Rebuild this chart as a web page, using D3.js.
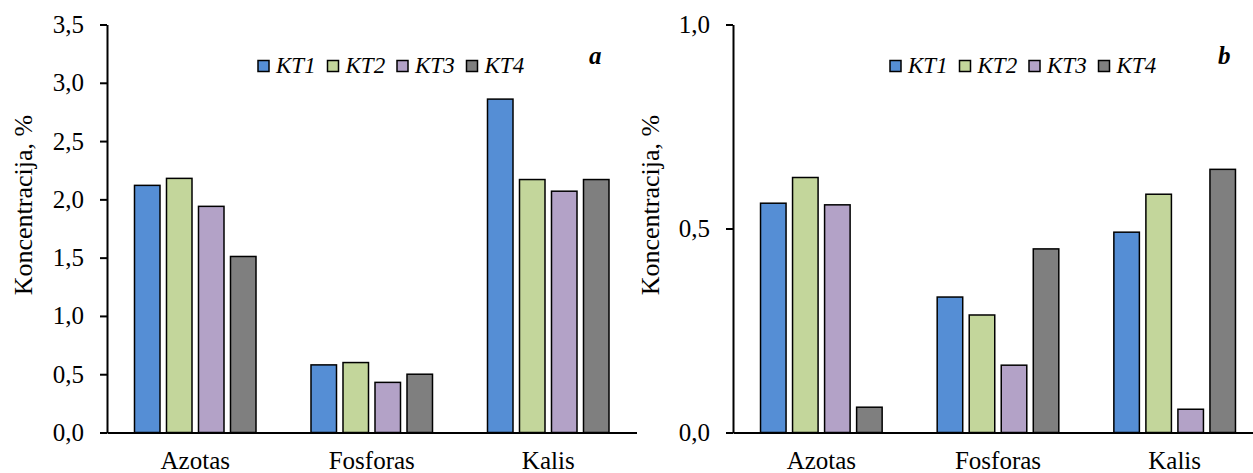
<!DOCTYPE html>
<html>
<head>
<meta charset="utf-8">
<script src="https://cdn.jsdelivr.net/npm/d3@7/dist/d3.min.js"></script>
<style>
  html, body { margin: 0; padding: 0; background: #fff; }
  svg { display: block; }
</style>
</head>
<body>
<svg id="chart" width="1253" height="473"></svg>
<script>
// Nutrient categories and treatment series
const categories = ["Azotas", "Fosforas", "Kalis"];
const seriesNames = ["KT1", "KT2", "KT3", "KT4"];
const seriesColors = ["#558ED5", "#C3D69B", "#B3A2C7", "#7F7F7F"];

// Panel a: concentration, % (rows = series, columns = categories)
const valuesA = [
  [2.12, 0.58, 2.86],
  [2.18, 0.60, 2.17],
  [1.94, 0.43, 2.07],
  [1.51, 0.50, 2.17]
];
const ticksA = [0, 0.5, 1.0, 1.5, 2.0, 2.5, 3.0, 3.5];

// Panel b: concentration, %
const valuesB = [
  [0.562, 0.332, 0.491],
  [0.625, 0.288, 0.584],
  [0.558, 0.165, 0.057],
  [0.062, 0.450, 0.645]
];
const ticksB = [0, 0.5, 1.0];

const yTitle = "Koncentracija, %";
const svg = d3.select("#chart");
const FONT = '"Liberation Serif"';

function serifText(sel, size) {
  return sel.style("font-family", FONT).style("font-size", size + "px").style("fill", "#000");
}

function drawPanel(cfg) {
  const g = svg.append("g");
  const y = d3.scaleLinear().domain([0, cfg.max]).range([432.5, 24.5]);
  const x = d3.scaleBand().domain(categories).range([cfg.x0, cfg.x1])
    .paddingInner(0.3116).paddingOuter(0.1558);
  const xs = d3.scaleBand().domain(seriesNames).range([0, x.bandwidth()])
    .paddingInner(0.203).paddingOuter(0);

  // bars
  seriesNames.forEach((s, si) => {
    g.append("g").selectAll("rect")
      .data(categories.map((c, ci) => ({ c, v: cfg.values[si][ci] })))
      .join("rect")
      .attr("x", d => x(d.c) + xs(s))
      .attr("y", d => y(d.v))
      .attr("width", xs.bandwidth())
      .attr("height", d => y(0) - y(d.v))
      .attr("fill", seriesColors[si])
      .attr("stroke", "#000")
      .attr("stroke-width", 1.5);
  });

  // y axis
  const yAxis = g.append("g")
    .attr("transform", `translate(${cfg.x0},0)`)
    .call(d3.axisLeft(y).tickValues(cfg.ticks).tickSizeInner(7).tickSizeOuter(0)
      .tickPadding(16)
      .tickFormat(d => d.toFixed(1).replace(".", ",")));
  yAxis.attr("font-family", null).attr("font-size", null);
  yAxis.selectAll("path, line").attr("stroke", "#000").attr("stroke-width", 2);
  serifText(yAxis.selectAll("text"), 25);

  // x axis
  const xAxis = g.append("g")
    .attr("transform", `translate(0,${y(0)})`)
    .call(d3.axisBottom(x).tickSize(0).tickSizeOuter(0).tickPadding(19));
  xAxis.attr("font-family", null).attr("font-size", null);
  xAxis.select("path").attr("stroke", "#000").attr("stroke-width", 2);
  serifText(xAxis.selectAll("text"), 25);

  // y axis title
  serifText(g.append("text"), 26)
    .attr("transform", `translate(${cfg.titleX},205) rotate(-90)`)
    .attr("text-anchor", "middle")
    .attr("dominant-baseline", "central")
    .text(yTitle);

  // legend
  const lg = g.append("g");
  seriesNames.forEach((s, i) => {
    const lx = cfg.legendX + i * 69.5;
    lg.append("rect")
      .attr("x", lx).attr("y", 60.5).attr("width", 11).attr("height", 11)
      .attr("fill", seriesColors[i]).attr("stroke", "#000").attr("stroke-width", 1.5);
    serifText(lg.append("text"), 23)
      .attr("x", lx + 18).attr("y", 72.5)
      .style("font-style", "italic")
      .text(s);
  });

  // panel letter
  serifText(g.append("text"), 25)
    .attr("x", cfg.letterX).attr("y", 64)
    .style("font-style", "italic").style("font-weight", "bold")
    .text(cfg.letter);
}

drawPanel({ x0: 107, x1: 636.5, max: 3.5, ticks: ticksA, values: valuesA,
  titleX: 23, legendX: 258, letterX: 589, letter: "a" });
drawPanel({ x0: 733, x1: 1263, max: 1.0, ticks: ticksB, values: valuesB,
  titleX: 650, legendX: 890, letterX: 1218, letter: "b" });
</script>
</body>
</html>
